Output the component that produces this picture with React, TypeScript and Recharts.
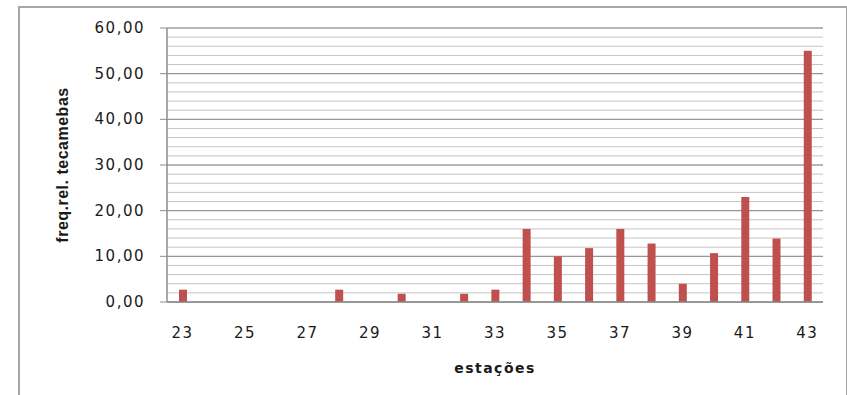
import React from "react"
import { BarChart, Bar, XAxis, YAxis, CartesianGrid } from "recharts"

const ESTACOES = [23, 24, 25, 26, 27, 28, 29, 30, 31, 32, 33, 34, 35, 36, 37, 38, 39, 40, 41, 42, 43]
const FREQ = [2.7, 0, 0, 0, 0, 2.7, 0, 1.8, 0, 1.8, 2.7, 16, 10, 11.8, 16, 12.8, 4, 10.7, 23, 13.9, 55]
const MAJOR_TICKS = [0, 10, 20, 30, 40, 50, 60]
const MINOR_TICKS = [0, 2, 4, 6, 8, 10, 12, 14, 16, 18, 20, 22, 24, 26, 28, 30, 32, 34, 36, 38, 40, 42, 44, 46, 48, 50, 52, 54, 56, 58, 60]

const data = ESTACOES.map((e, i) => ({ estacao: e, freq: FREQ[i] }))

const BAR_COLOR = "#c0504d"
const TICK_FONT = "'DejaVu Sans', sans-serif"

const fmt = (v: number) => v.toFixed(2).replace(".", ",")

function XTick(props: any) {
  const { x, y, payload } = props
  return (
    <text x={x} y={y + 28} textAnchor="middle" fontFamily={TICK_FONT} fontSize={15} letterSpacing={1.5} fill="#1a1a1a">
      {payload.value}
    </text>
  )
}

function YTick(props: any) {
  const { x, y, payload } = props
  return (
    <text x={x - 13} y={y + 5} textAnchor="end" fontFamily={TICK_FONT} fontSize={15} letterSpacing={1.5} fill="#1a1a1a">
      {fmt(payload.value)}
    </text>
  )
}

export default function App() {
  return (
    <div style={{ position: "fixed", left: 0, top: 0, width: 847, height: 395, overflow: "hidden", background: "#fff" }}>
      {/* outer chart frame */}
      <div
        style={{
          position: "absolute",
          left: 18,
          top: 6,
          width: 826,
          height: 420,
          border: "2px solid #a6a6a6",
          borderBottom: "none",
        }}
      />
      <div style={{ position: "absolute", left: 0, top: 0 }}>
        <BarChart width={847} height={395} data={data} margin={{ top: 28, right: 24, bottom: 0, left: 0 }} barSize={8}>
          <CartesianGrid vertical={false} horizontalValues={MINOR_TICKS} stroke="#c4c4c4" strokeWidth={1} />
          <CartesianGrid vertical={false} stroke="#8c8c8c" strokeWidth={1} />
          <XAxis
            dataKey="estacao"
            interval={1}
            tickLine={false}
            axisLine={{ stroke: "#8c8c8c", strokeWidth: 1.5 }}
            height={93}
            tick={<XTick />}
            label={{
              value: "estações",
              position: "insideBottom",
              offset: 22,
              fontFamily: TICK_FONT,
              fontWeight: "bold",
              fontSize: 14,
              letterSpacing: 1.5,
              fill: "#1a1a1a",
            }}
          />
          <YAxis
            domain={[0, 60]}
            ticks={MAJOR_TICKS}
            interval={0}
            width={167}
            tickSize={7}
            tickLine={{ stroke: "#8c8c8c" }}
            axisLine={{ stroke: "#8c8c8c", strokeWidth: 1.5 }}
            tick={<YTick />}
            label={{
              value: "freq.rel. tecamebas",
              angle: -90,
              position: "insideLeft",
              offset: 62,
              fontFamily: "'Liberation Sans', Arial, sans-serif",
              fontWeight: "bold",
              fontSize: 16,
              letterSpacing: 0.5,
              fill: "#1a1a1a",
              style: { textAnchor: "middle" },
            }}
          />
          <Bar dataKey="freq" fill={BAR_COLOR} isAnimationActive={false} />
        </BarChart>
      </div>
    </div>
  )
}
